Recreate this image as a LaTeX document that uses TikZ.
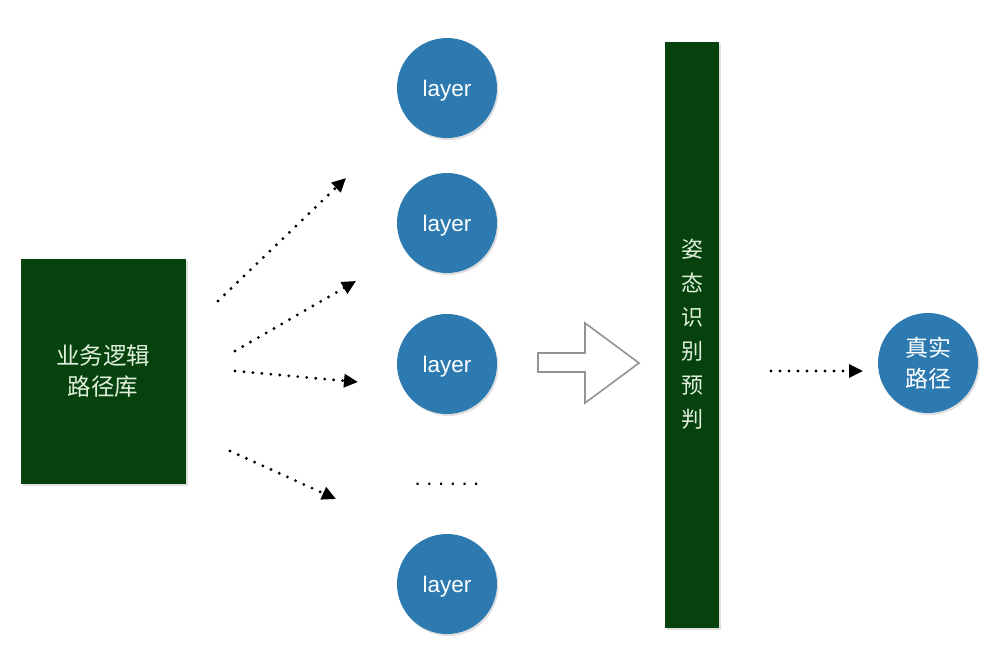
\documentclass[tikz,border=0pt]{standalone}
\usepackage{fontspec}
\setmainfont{Liberation Sans}
\newfontfamily\cjk{Noto Sans CJK SC}
\usetikzlibrary{arrows.meta,shadows}
\definecolor{darkgreen}{RGB}{5,66,14}
\definecolor{layerblue}{RGB}{45,122,176}
\definecolor{txtgreen}{RGB}{225,240,220}
\tikzset{
  greenbox/.style={fill=darkgreen, draw=none, drop shadow={shadow xshift=1.5pt,shadow yshift=-2pt,opacity=0.25}},
  layercircle/.style={circle, fill=layerblue, draw=none, minimum size=100pt, inner sep=0pt, text=white, font=\fontsize{22.5}{26}\selectfont, drop shadow={shadow xshift=1.5pt,shadow yshift=-2pt,opacity=0.25}},
  layertext/.style={text height=17pt, text depth=0pt},
  dotarrow/.style={line width=3.2pt, line cap=round, dash pattern=on 0pt off 9pt, -{Triangle[length=14pt,width=13pt]}, shorten >=0pt},
  hollowarrow/.style={draw=gray!85, line width=1.6pt, fill=white, line join=miter}
}
\begin{document}
\begin{tikzpicture}[x=1pt,y=-1pt]
\useasboundingbox (0,0) rectangle (998,669);
% left box
\node[greenbox, minimum width=165pt, minimum height=225pt, anchor=north west, inner sep=0pt] (lib) at (21,259) {};
\node[text=txtgreen, align=center, font=\cjk\fontsize{23.5}{31}\selectfont] (libtxt) at (103,371) {业务逻辑\\路径库};
% layers
\node[layercircle, layertext] (l1) at (447,88) {layer};
\node[layercircle, layertext] (l2) at (447,223) {layer};
\node[layercircle, layertext] (l3) at (447,364) {layer};
\node[layercircle, layertext] (l5) at (447,584) {layer};
\node[font=\fontsize{22}{24}\selectfont, inner sep=0pt] (dots) at (447,484) {.\kern5.6pt.\kern5.6pt.\kern5.6pt.\kern5.6pt.\kern5.6pt.};
% dotted arrows
\coordinate (a1s) at (218,301); \coordinate (a1e) at (346,178);
\coordinate (a2s) at (235,351); \coordinate (a2e) at (356,281);
\coordinate (a3s) at (235,371); \coordinate (a3e) at (358,382);
\coordinate (a4s) at (230,451); \coordinate (a4e) at (336,499);
\draw[dotarrow] (a1s) -- (a1e);
\draw[dotarrow] (a2s) -- (a2e);
\draw[dotarrow] (a3s) -- (a3e);
\draw[dotarrow] (a4s) -- (a4e);
% hollow arrow
\draw[hollowarrow] (538,353) -- (585,353) -- (585,323) -- (639,363) -- (585,403) -- (585,372) -- (538,372) -- cycle;
% vertical bar
\node[greenbox, minimum width=54pt, minimum height=586pt, anchor=north west, inner sep=0pt] (bar) at (665,42) {};
\node[text=txtgreen, align=center, font=\cjk\fontsize{22}{34}\selectfont] (bartxt) at (692,334) {姿\\态\\识\\别\\预\\判};
% output
\node[layercircle, font=\cjk\fontsize{23}{31}\selectfont, align=center] (real) at (928,363) {真实\\路径};
\coordinate (a5s) at (771,371); \coordinate (a5e) at (863,371);
\draw[dotarrow] (a5s) -- (a5e);
\end{tikzpicture}
\end{document}
